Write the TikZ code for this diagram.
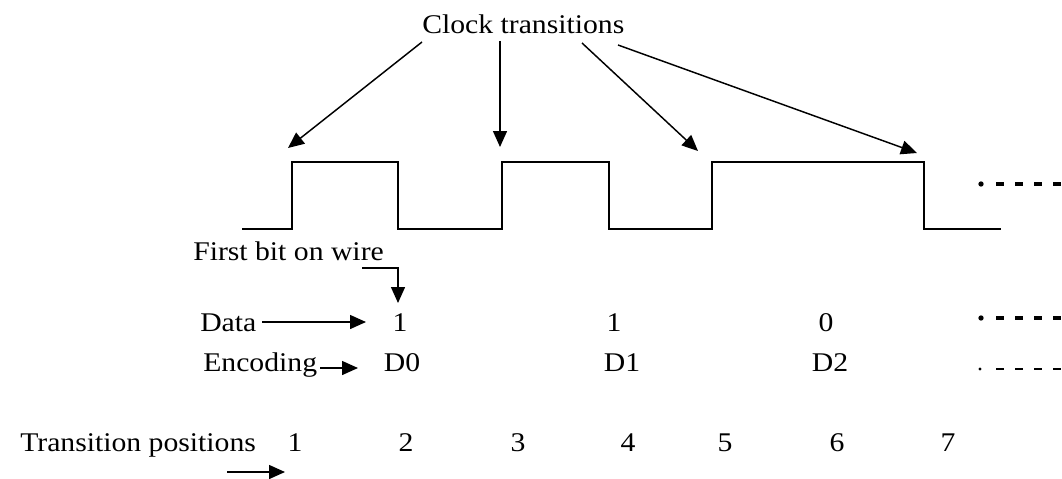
\documentclass[tikz,border=0pt]{standalone}
\usepackage{fontspec}
\setmainfont{Liberation Serif}[FakeStretch=1.1]
\usetikzlibrary{arrows.meta}
\begin{document}
\begin{tikzpicture}[x=0.75pt,y=-0.75pt,
  txt/.style={inner sep=0pt,font=\fontsize{20.25}{24}\selectfont},
  wave/.style={line width=1.6pt,line join=miter},
  ptr/.style={line width=1.1pt,-{Triangle[length=12pt,width=10.5pt]}},
  more/.style={line width=3pt,dash pattern=on 6pt off 8.25pt},
  morethin/.style={line width=1.8pt,dash pattern=on 6pt off 8.25pt}]
\useasboundingbox (0,0) rectangle (1062,478);

% labels
\node[txt,anchor=base west] (clock) at (422,34) {Clock transitions};
\node[txt,anchor=base west] (first) at (193,260) {First bit on wire};
\node[txt,anchor=base west] (data) at (200,331) {Data};
\node[txt,anchor=base west] (enc) at (203,371) {Encoding};
\node[txt,anchor=base west] (trans) at (20,451) {Transition positions};

% data bits and their encodings
\node[txt,anchor=base] (b0) at (400,331) {1};
\node[txt,anchor=base] (b1) at (614,331) {1};
\node[txt,anchor=base] (b2) at (826,331) {0};
\node[txt,anchor=base] (e0) at (402,371) {D0};
\node[txt,anchor=base] (e1) at (622,371) {D1};
\node[txt,anchor=base] (e2) at (830,371) {D2};

% transition position numbers
\foreach \n/\x in {1/295,2/406,3/518,4/628,5/725,6/837,7/948}
  \node[txt,anchor=base] (p\n) at (\x,451) {\n};

% clock waveform
\draw[wave] (242,229) -- (292,229) -- (292,162) -- (398,162) -- (398,229)
  -- (502,229) -- (502,162) -- (609,162) -- (609,229) -- (712,229)
  -- (712,162) -- (924,162) -- (924,229) -- (1001,229);

% continuation marks
\fill (981,184) circle (2pt);
\draw[more] (996,184) -- (1062,184);
\fill (981,318) circle (2pt);
\draw[more] (996,318) -- (1062,318);
\fill (980,369) circle (1.2pt);
\draw[morethin] (996,369) -- (1062,369);

% arrow anchors
\coordinate (c1s) at (422,42);  \coordinate (c1e) at (288,148);
\coordinate (c2s) at (500,41);  \coordinate (c2e) at (500,147);
\coordinate (c3s) at (582,43);  \coordinate (c3e) at (698,151);
\coordinate (c4s) at (618,45);  \coordinate (c4e) at (917,153);
\coordinate (fs) at (362,268);  \coordinate (fe) at (398,303);
\coordinate (ds) at (262,322);  \coordinate (de) at (366,322);
\coordinate (es) at (320,368);  \coordinate (ee) at (358,368);
\coordinate (ts) at (227,472);  \coordinate (te) at (285,472);

\draw[ptr] (c1s) -- (c1e);
\draw[ptr] (c2s) -- (c2e);
\draw[ptr] (c3s) -- (c3e);
\draw[ptr] (c4s) -- (c4e);
\draw[ptr] (fs) -| (fe);
\draw[ptr] (ds) -- (de);
\draw[ptr] (es) -- (ee);
\draw[ptr] (ts) -- (te);
\end{tikzpicture}
\end{document}
